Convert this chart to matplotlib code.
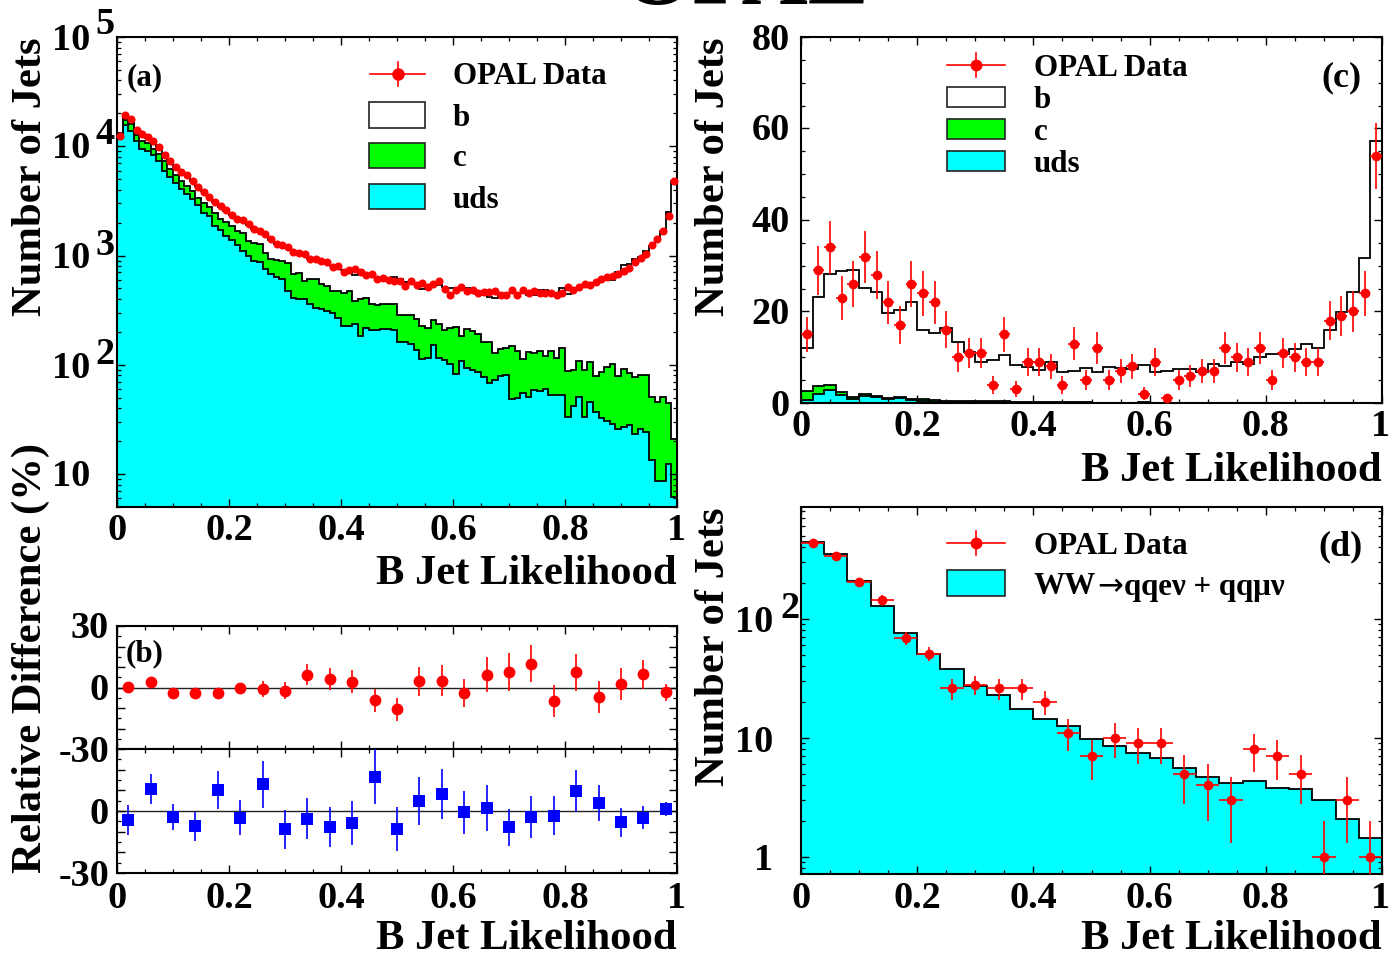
import matplotlib
matplotlib.use("Agg")
import matplotlib.pyplot as plt
import numpy as np
from matplotlib.lines import Line2D
from matplotlib.patches import Rectangle
from matplotlib.ticker import FixedLocator, LogLocator, MultipleLocator, NullFormatter

W, H = 1392, 956
plt.rcParams["font.family"] = ["Liberation Serif", "DejaVu Serif"]
plt.rcParams["font.weight"] = "bold"

# panel (a), log10 of the counts per bin
a_data_log = [
    4.091, 4.289, 4.249, 4.152, 4.115, 4.085, 4.045, 3.994, 3.924, 3.869,
    3.814, 3.768, 3.741, 3.680, 3.625, 3.580, 3.537, 3.494, 3.452, 3.418,
    3.370, 3.339, 3.324, 3.290, 3.239, 3.223, 3.199, 3.147, 3.108, 3.093,
    3.077, 3.035, 3.026, 3.010, 2.968, 2.965, 2.949, 2.940, 2.898, 2.901,
    2.852, 2.870, 2.880, 2.852, 2.822, 2.828, 2.788, 2.797, 2.773, 2.767,
    2.764, 2.722, 2.770, 2.731, 2.749, 2.710, 2.743, 2.764, 2.691, 2.640,
    2.688, 2.716, 2.673, 2.688, 2.658, 2.667, 2.670, 2.676, 2.640, 2.640,
    2.685, 2.637, 2.688, 2.658, 2.673, 2.658, 2.658, 2.655, 2.640, 2.661,
    2.713, 2.682, 2.716, 2.737, 2.731, 2.761, 2.789, 2.804, 2.813, 2.834,
    2.859, 2.889, 2.938, 2.974, 3.014, 3.096, 3.154, 3.224, 3.361, 3.684,
]
a_total_log = [
    4.120, 4.289, 4.243, 4.143, 4.112, 4.076, 4.024, 3.985, 3.918, 3.863,
    3.808, 3.771, 3.735, 3.686, 3.634, 3.589, 3.543, 3.491, 3.446, 3.412,
    3.370, 3.330, 3.315, 3.284, 3.239, 3.217, 3.193, 3.141, 3.108, 3.086,
    3.071, 3.032, 3.020, 3.001, 2.971, 2.956, 2.943, 2.928, 2.904, 2.889,
    2.867, 2.858, 2.819, 2.843, 2.828, 2.822, 2.806, 2.806, 2.797, 2.804,
    2.783, 2.758, 2.761, 2.737, 2.697, 2.700, 2.722, 2.728, 2.713, 2.700,
    2.707, 2.713, 2.707, 2.682, 2.652, 2.640, 2.624, 2.615, 2.652, 2.652,
    2.661, 2.652, 2.655, 2.637, 2.640, 2.682, 2.682, 2.670, 2.661, 2.700,
    2.652, 2.691, 2.707, 2.731, 2.737, 2.746, 2.776, 2.780, 2.780, 2.850,
    2.914, 2.920, 2.965, 2.987, 3.041, 3.087, 3.154, 3.224, 3.401, 3.681,
]
a_c_log = [
    4.100, 4.243, 4.207, 4.106, 4.051, 4.030, 3.978, 3.933, 3.863, 3.796,
    3.741, 3.686, 3.634, 3.589, 3.528, 3.479, 3.443, 3.391, 3.336, 3.306,
    3.269, 3.223, 3.208, 3.132, 3.117, 3.102, 3.026, 2.965, 2.959, 2.949,
    2.934, 2.834, 2.843, 2.767, 2.782, 2.782, 2.743, 2.721, 2.676, 2.676,
    2.660, 2.676, 2.584, 2.599, 2.609, 2.554, 2.545, 2.554, 2.554, 2.554,
    2.457, 2.457, 2.457, 2.417, 2.356, 2.335, 2.411, 2.372, 2.320, 2.341,
    2.350, 2.265, 2.332, 2.305, 2.286, 2.213, 2.213, 2.107, 2.143, 2.153,
    2.174, 2.128, 2.052, 2.119, 2.107, 2.128, 2.083, 2.122, 2.061, 2.153,
    1.946, 1.955, 2.031, 1.955, 2.022, 1.894, 1.930, 1.982, 2.012, 1.900,
    1.964, 1.921, 1.885, 1.909, 1.909, 1.702, 1.662, 1.702, 1.647, 1.321,
]
a_uds_log = [
    4.085, 4.198, 4.143, 4.051, 3.978, 3.954, 3.924, 3.863, 3.777, 3.717,
    3.665, 3.613, 3.564, 3.522, 3.467, 3.391, 3.360, 3.275, 3.230, 3.178,
    3.138, 3.096, 3.041, 2.995, 2.949, 2.943, 2.873, 2.828, 2.803, 2.782,
    2.676, 2.615, 2.599, 2.599, 2.554, 2.517, 2.508, 2.493, 2.478, 2.432,
    2.356, 2.356, 2.371, 2.264, 2.335, 2.316, 2.316, 2.325, 2.325, 2.317,
    2.213, 2.207, 2.189, 2.137, 2.052, 2.067, 2.177, 2.067, 2.043, 2.012,
    1.915, 2.031, 1.970, 1.952, 1.936, 1.885, 1.830, 1.860, 1.894, 1.903,
    1.690, 1.693, 1.742, 1.702, 1.769, 1.763, 1.778, 1.723, 1.723, 1.723,
    1.519, 1.620, 1.702, 1.519, 1.656, 1.565, 1.513, 1.483, 1.459, 1.413,
    1.428, 1.449, 1.367, 1.413, 1.388, 1.130, 0.935, 0.935, 1.093, 0.795,
]

# panel (b)
b_red = [0.2, 2.9, -2.6, -2.6, -2.7, -0.2, -0.8, -1.6, 6.3, 4.0, 2.9, -6.3, -10.5,
         3.1, 3.4, -2.6, 6.3, 7.6, 11.6, -6.5, 7.4, -4.8, 1.9, 6.5, -2.4]
b_red_err = [1.5, 1.7, 2.0, 2.0, 2.0, 2.6, 3.8, 4.1, 5.2, 5.3, 5.6, 5.6, 5.6,
             7.1, 7.5, 6.9, 8.5, 9.1, 9.0, 7.7, 9.0, 7.8, 7.8, 7.1, 4.1]
b_blue = [-4.5, 10.6, -2.7, -7.4, 10.2, -3.2, 12.9, -8.9, -3.7, -7.7, -5.8, 16.5, -8.7,
          4.8, 8.2, -0.6, 1.6, -7.9, -2.9, -2.3, 9.8, 4.0, -5.5, -3.2, 1.0]
b_blue_err = [7.3, 7.3, 6.3, 6.9, 9.1, 8.5, 11.4, 9.4, 9.8, 9.8, 10.5, 13.3, 10.5,
              11.5, 12.1, 10.4, 11.2, 9.0, 10.3, 9.4, 10.2, 8.7, 6.9, 5.6, 3.4]

# panel (c)
c_data = [15, 29, 34, 23, 26, 32, 28, 22, 17, 26, 24, 22, 16, 10, 11, 11, 4, 15, 3, 9, 9, 8, 4, 13, 5,
          12, 5, 7, 8, 2, 9, 1, 5, 6, 7, 7, 12, 10, 9, 12, 5, 11, 10, 9, 9, 18, 19, 20, 24, 54]
c_err = [3.9, 5.4, 5.8, 4.8, 5.1, 5.7, 5.3, 4.7, 4.1, 5.1, 4.9, 4.7, 4.0, 3.2, 3.3, 3.3, 2.0, 3.9, 1.7,
         3.0, 3.0, 2.8, 2.0, 3.6, 2.2, 3.5, 2.2, 2.6, 2.8, 1.4, 3.0, 1.0, 2.2, 2.4, 2.6, 2.6, 3.5, 3.2,
         3.0, 3.5, 2.2, 3.3, 3.2, 3.0, 3.0, 4.2, 4.4, 4.5, 4.9, 7.3]
c_total = [12.0, 23.1, 28.2, 28.9, 29.1, 25.2, 24.2, 19.6, 20.3, 22.0, 16.0, 15.3, 16.3, 13.4, 11.2, 8.9, 9.4,
           10.6, 8.3, 7.9, 7.2, 9.0, 6.7, 7.1, 7.6, 6.8, 7.8, 7.6, 7.4, 8.3, 6.8, 7.0, 7.4, 7.4, 6.8, 8.5,
           8.1, 8.9, 8.5, 10.1, 10.8, 10.8, 11.8, 12.8, 12.0, 16.0, 19.9, 24.3, 31.8, 57.3]
c_c = [2.6, 3.8, 3.9, 2.5, 1.4, 2.0, 1.6, 1.1, 1.4, 0.9, 0.8, 0.6, 0.5, 0.4, 0.4, 0.35, 0.35, 0.5, 0.3, 0.3,
       0.2, 0.2, 0.2, 0.15, 0.15, 0.1, 0.1, 0.1, 0.1, 0.15, 0.1, 0.1, 0.05, 0.05, 0.05, 0.05, 0.05, 0.05,
       0.05, 0.05, 0.05, 0.05, 0.05, 0.05, 0.05, 0.05, 0.05, 0.05, 0.05, 0.05]
c_uds = [0.65, 2.0, 2.8, 1.7, 0.95, 1.5, 1.4, 0.8, 1.0, 0.65, 0.45, 0.3, 0.3, 0.2, 0.2, 0.15, 0.15, 0.1, 0.1,
         0.1, 0.05, 0.05, 0.05, 0.05, 0.05, 0.05, 0.05, 0.05, 0.05, 0.05, 0.05, 0.05, 0.0, 0.0, 0.0, 0.0,
         0.0, 0.0, 0.0, 0.0, 0.0, 0.0, 0.0, 0.0, 0.0, 0.0, 0.0, 0.0, 0.0, 0.0]

# panel (d)
d_data = [432, 336, 203, 145, 69, 51, 26, 28, 26, 26, 20, 11, 7, 10, 9, 9, 5, 4, 3, 8, 7, 5, 1, 3, 1]
d_err = [20.8, 18.3, 14.2, 12.0, 8.3, 7.1, 5.1, 5.3, 5.1, 5.1, 4.5, 3.3, 2.6, 3.2, 3.0, 3.0, 2.2, 2.0, 1.7,
         2.8, 2.6, 2.2, 1.0, 1.7, 1.0]
d_mc = [438, 347, 208, 128, 76, 51, 37.8, 27.2, 22.8, 17.5, 14.5, 12.6, 9.8, 8.5, 7.4, 6.7, 5.6, 4.7, 4.2,
        4.35, 3.8, 3.7, 3.0, 2.06, 1.44]

x_tick_labels = ["0", "0.2", "0.4", "0.6", "0.8", "1"]

TICK_FS = 27.5
TITLE_FS = 30.7
LEG_FS = 22.3
RED = "#ff0000"


def fx(x):
    return x / W


def fy(y):
    return 1 - y / H


def make_axes(fig, left, top, right, bottom):
    ax = fig.add_axes([fx(left), fy(bottom), (right - left) / W, (bottom - top) / H])
    ax.set_xlim(0, 1)
    ax.set_axisbelow(False)
    ax.xaxis.set_major_locator(MultipleLocator(0.2))
    ax.xaxis.set_minor_locator(MultipleLocator(0.05))
    ax.tick_params(which="major", direction="in", top=True, right=True, length=5.5, width=1.0,
                   labelbottom=False, labelleft=False)
    ax.tick_params(which="minor", direction="in", top=True, right=True, length=3, width=0.9)
    for s in ax.spines.values():
        s.set_linewidth(1.5)
    return ax


def ftext(fig, x, y, s, size=TICK_FS, ha="center", va="center", **kw):
    # va=center sits a little high for these fonts
    if va == "center":
        y += 3
    kw.setdefault("fontweight", "bold")
    return fig.text(fx(x), fy(y), s, fontsize=size, ha=ha, va=va, color="black", zorder=10, **kw)


def x_labels(fig, left, right, y):
    for i, lab in enumerate(x_tick_labels):
        ftext(fig, left + (right - left) * i / 5, y, lab)


def hist(ax, vals, edges, color=None, base=0.0, lw=1.3):
    if color is not None:
        ax.stairs(vals, edges, baseline=base, fill=True, color=color, lw=0, zorder=1)
    ax.stairs(vals, edges, baseline=None, color="black", lw=lw, zorder=1.5)


def legend_data(fig, x0, x1, y, ms=8.5):
    xm = (x0 + x1) / 2
    fig.add_artist(Line2D([fx(x0), fx(x1)], [fy(y), fy(y)], color=RED, lw=1.2, zorder=9))
    fig.add_artist(Line2D([fx(xm), fx(xm)], [fy(y - 12), fy(y + 12)], color=RED, lw=1.2, zorder=9))
    fig.add_artist(Line2D([fx(xm)], [fy(y)], marker="o", ms=ms, color=RED, mew=0, zorder=9))


def legend_box(fig, x0, y0, x1, y1, color):
    fig.add_artist(Rectangle((fx(x0), fy(y1)), (x1 - x0) / W, (y1 - y0) / H, facecolor=color,
                             edgecolor="#222222", lw=1.2, transform=fig.transFigure, zorder=9))


fig = plt.figure(figsize=(W / 100, H / 100), dpi=100)

# (a)
edges_a = np.linspace(0, 1, 101)
centers_a = 0.5 * (edges_a[:-1] + edges_a[1:])
ax_a = make_axes(fig, 117, 37, 677, 507)
ax_a.set_yscale("log")
ax_a.set_ylim(5, 1e5)
ax_a.yaxis.set_minor_locator(LogLocator(base=10, subs=np.arange(2, 10), numticks=12))
ax_a.yaxis.set_minor_formatter(NullFormatter())
hist(ax_a, 10 ** np.array(a_total_log), edges_a)
hist(ax_a, 10 ** np.array(a_c_log), edges_a, "#00ff00", 1)
hist(ax_a, 10 ** np.array(a_uds_log), edges_a, "#00ffff", 1)
ax_a.plot(centers_a, 10 ** np.array(a_data_log), "o", color=RED, ms=5.8, mew=0, zorder=3, clip_on=False)

for y, exp, ey in [(37, "5", 22), (146, "4", 131), (255, "3", 243), (365, "2", 352)]:
    ftext(fig, 90, y, "10", ha="right")
    ftext(fig, 105, ey, exp)
ftext(fig, 90, 474, "10", ha="right")
x_labels(fig, 117, 677, 527)
ftext(fig, 677, 571, "B Jet Likelihood", size=TITLE_FS, ha="right")
ftext(fig, 31, 37, "Number of Jets", size=TITLE_FS, va="top", rotation=90)
ftext(fig, 145, 75, "(a)", size=LEG_FS)
legend_data(fig, 370, 425, 74, ms=9)
legend_box(fig, 369, 102, 425, 128, "white")
legend_box(fig, 369, 143, 425, 168, "#00ff00")
legend_box(fig, 369, 184, 425, 209, "#00ffff")
for y, lab in [(74, "OPAL Data"), (115, "b"), (156, "c"), (197, "uds")]:
    ftext(fig, 453, y, lab, size=LEG_FS, ha="left")

# (b)
centers_b = (np.arange(25) + 0.5) * 0.04
ax_b1 = make_axes(fig, 117, 626, 677, 749)
ax_b2 = make_axes(fig, 117, 749, 677, 873)
for ax in (ax_b1, ax_b2):
    ax.set_ylim(-30, 30)
    ax.yaxis.set_major_locator(MultipleLocator(10))
    ax.yaxis.set_minor_locator(MultipleLocator(5))
    ax.axhline(0, color="#222222", lw=1.0, zorder=1)
ax_b1.errorbar(centers_b, b_red, yerr=b_red_err, fmt="o", color=RED, ms=8.5, mew=0, elinewidth=1.2, zorder=3)
ax_b2.errorbar(centers_b, b_blue, yerr=b_blue_err, fmt="s", color="#0000ff", ms=8.5, mew=0, elinewidth=1.2, zorder=3)
for y, lab in [(625, "30"), (687, "0"), (749, "-30"), (811, "0"), (873, "-30")]:
    ftext(fig, 109, y, lab, ha="right")
x_labels(fig, 117, 677, 895)
ftext(fig, 677, 936, "B Jet Likelihood", size=TITLE_FS, ha="right")
ftext(fig, 31, 873, "Relative Difference (%)", size=TITLE_FS, va="bottom", rotation=90)
ftext(fig, 145, 651, "(b)", size=LEG_FS)

# (c)
edges_c = np.linspace(0, 1, 51)
centers_c = 0.5 * (edges_c[:-1] + edges_c[1:])
ax_c = make_axes(fig, 801, 37, 1382, 403)
ax_c.set_ylim(0, 80)
ax_c.yaxis.set_major_locator(MultipleLocator(20))
ax_c.yaxis.set_minor_locator(MultipleLocator(5))
hist(ax_c, c_total, edges_c)
hist(ax_c, c_c, edges_c, "#00ff00")
hist(ax_c, c_uds, edges_c, "#00ffff")
ax_c.errorbar(centers_c, c_data, yerr=c_err, xerr=0.01, fmt="o", color=RED, ms=7, mew=0, elinewidth=1.2, zorder=3)
for y, lab in [(37, "80"), (128, "60"), (220, "40"), (311, "20"), (403, "0")]:
    ftext(fig, 790, y, lab, ha="right")
x_labels(fig, 801, 1381, 424)
ftext(fig, 1382, 468, "B Jet Likelihood", size=TITLE_FS, ha="right")
ftext(fig, 714, 37, "Number of Jets", size=TITLE_FS, va="top", rotation=90)
ftext(fig, 1341, 75, "(c)", size=26)
legend_data(fig, 947, 1005, 65)
legend_box(fig, 947, 87, 1005, 107, "white")
legend_box(fig, 947, 119, 1005, 139, "#00ff00")
legend_box(fig, 947, 151, 1005, 171, "#00ffff")
for y, lab in [(65, "OPAL Data"), (97, "b"), (130, "c"), (161, "uds")]:
    ftext(fig, 1034, y, lab, size=LEG_FS, ha="left")

# (d)
edges_d = np.linspace(0, 1, 26)
centers_d = 0.5 * (edges_d[:-1] + edges_d[1:])
ax_d = make_axes(fig, 801, 507, 1382, 874)
ax_d.set_yscale("log")
ax_d.set_ylim(0.716, 869)
ax_d.yaxis.set_major_locator(FixedLocator([1, 10, 100]))
ax_d.yaxis.set_minor_locator(LogLocator(base=10, subs=np.arange(2, 10), numticks=12))
ax_d.yaxis.set_minor_formatter(NullFormatter())
hist(ax_d, d_mc, edges_d, "#00ffff", 0.1)
ax_d.errorbar(centers_d, d_data, yerr=d_err, xerr=0.02, fmt="o", color=RED, ms=7, mew=0, elinewidth=1.2, zorder=3)
ftext(fig, 773, 620, "10", ha="right")
ftext(fig, 790, 606, "2")
ftext(fig, 773, 739, "10", ha="right")
ftext(fig, 773, 858, "1", ha="right")
x_labels(fig, 801, 1381, 895)
ftext(fig, 1382, 936, "B Jet Likelihood", size=TITLE_FS, ha="right")
ftext(fig, 714, 507, "Number of Jets", size=TITLE_FS, va="top", rotation=90)
ftext(fig, 1341, 544, "(d)", size=26)
legend_data(fig, 947, 1005, 543)
legend_box(fig, 947, 570, 1005, 596, "#00ffff")
ftext(fig, 1034, 543, "OPAL Data", size=LEG_FS, ha="left")
ftext(fig, 1034, 584, "WW", size=LEG_FS, ha="left")
ftext(fig, 1110, 584, "→", size=LEG_FS, family="DejaVu Sans", fontweight="normal")
ftext(fig, 1285, 584, "qqeν + qqμν", size=LEG_FS, ha="right")

# cut off title at the top edge of the page
ftext(fig, 745, 4, "OPAL", size=66, va="baseline")

fig.savefig("out.png", dpi=100)
